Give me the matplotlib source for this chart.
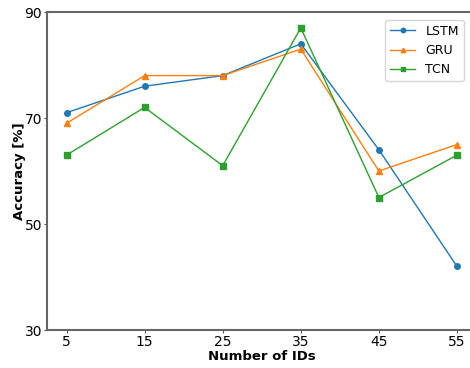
import matplotlib
matplotlib.use('Agg')
import matplotlib.pyplot as plt

num_ids = [5, 15, 25, 35, 45, 55]
lstm = [71, 76, 78, 84, 64, 42]
gru = [69, 78, 78, 83, 60, 65]
tcn = [63, 72, 61, 87, 55, 63]

fig = plt.figure(figsize=(4.7, 3.68), dpi=100)
ax = fig.add_axes([47/470, 1-330/368, 429.5/470, 318/368])
ax.plot(num_ids, lstm, 'o-', color='#1f77b4', lw=1, ms=4, label='LSTM')
ax.plot(num_ids, gru, '^-', color='#ff7f0e', lw=1, ms=4, label='GRU')
ax.plot(num_ids, tcn, 's-', color='#2ca02c', lw=1, ms=4, label='TCN')
ax.set_xlim(2.5, 57.5)
ax.set_ylim(30, 90)
ax.set_xticks(num_ids)
ax.set_yticks([30, 50, 70, 90])
ax.tick_params(labelsize=10, length=2, pad=1.5, colors='#555555', labelcolor='black')
for s in ax.spines.values():
    s.set_color('#666666')
    s.set_linewidth(1.5)
ax.set_xlabel('Number of IDs', fontsize=9.5, fontweight='bold', labelpad=1)
ax.set_ylabel('Accuracy [%]', fontsize=9.5, fontweight='bold', labelpad=-1)
ax.legend(loc='upper right', fontsize=9, markerscale=0.8, bbox_to_anchor=(0.985, 0.995))
fig.savefig('out.png', dpi=100)
